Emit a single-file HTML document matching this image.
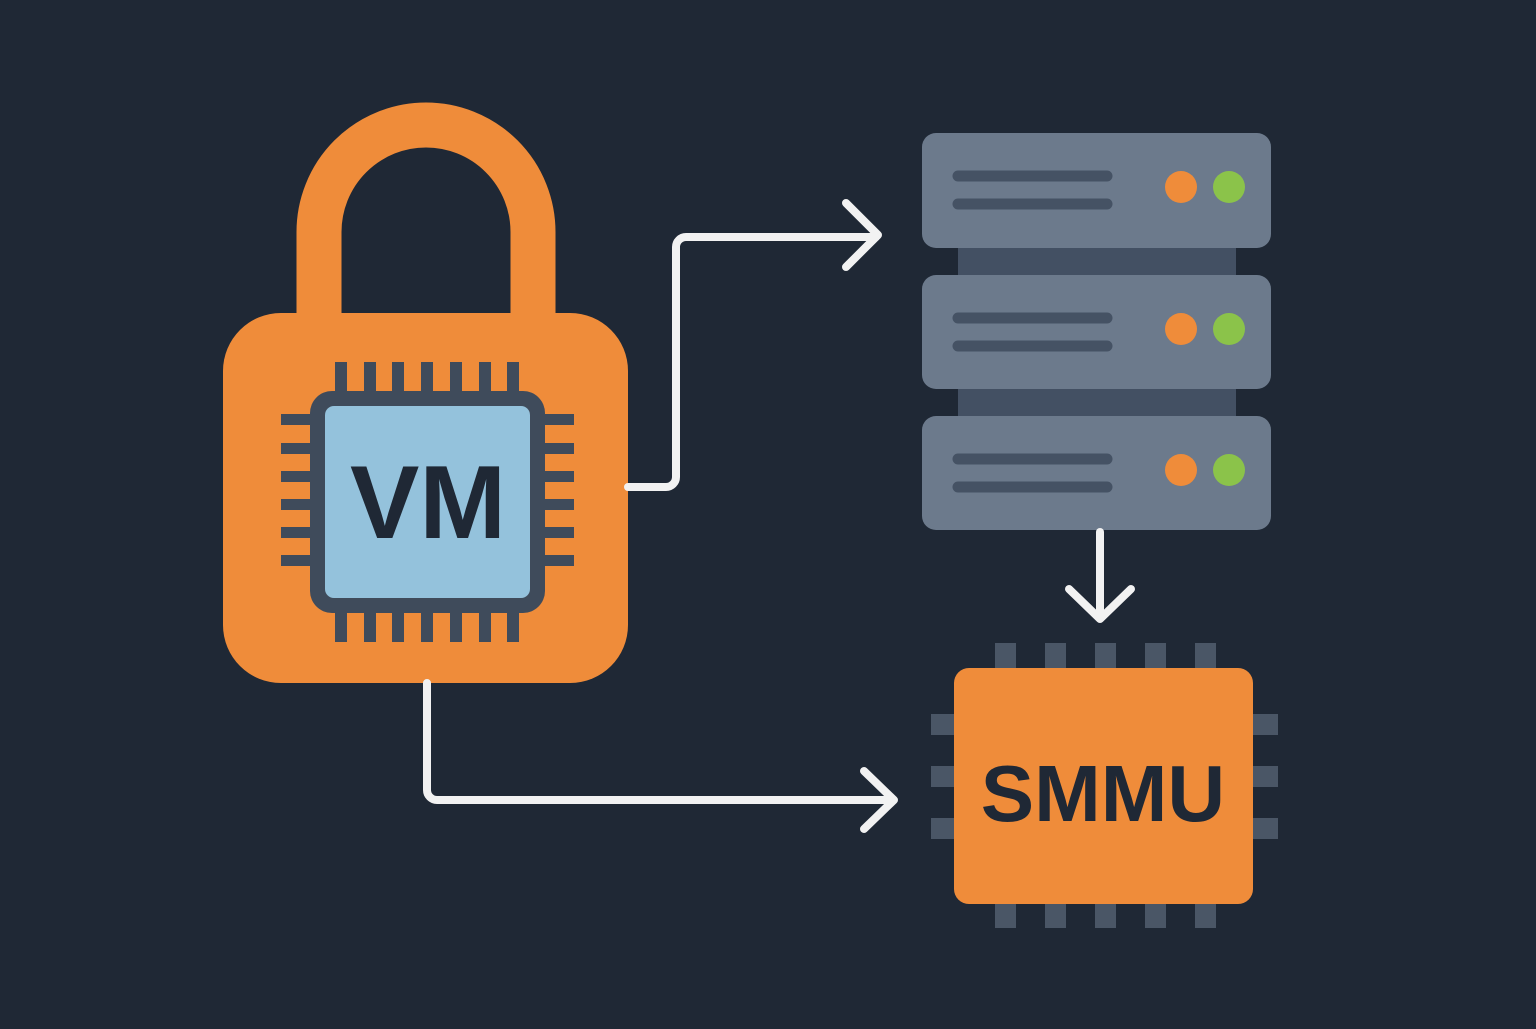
<!DOCTYPE html>
<html><head><style>html,body{margin:0;padding:0;background:#1f2835;}</style></head>
<body>
<svg width="1536" height="1024" viewBox="0 0 1536 1024" xmlns="http://www.w3.org/2000/svg">
<rect width="1536" height="1024" fill="#1f2835"/>
<!-- lock shackle -->
<path d="M319 330 V232 A107 107 0 0 1 533 232 V330" fill="none" stroke="#ef8c3a" stroke-width="45"/>
<rect x="223" y="313" width="405" height="370" rx="58" fill="#ef8c3a"/>
<!-- chip pins -->
<g fill="#3f4b5b">
<rect x="335" y="362" width="12" height="32"/><rect x="364" y="362" width="12" height="32"/><rect x="392" y="362" width="12" height="32"/><rect x="421" y="362" width="12" height="32"/><rect x="450" y="362" width="12" height="32"/><rect x="479" y="362" width="12" height="32"/><rect x="507" y="362" width="12" height="32"/>
<rect x="335" y="610" width="12" height="32"/><rect x="364" y="610" width="12" height="32"/><rect x="392" y="610" width="12" height="32"/><rect x="421" y="610" width="12" height="32"/><rect x="450" y="610" width="12" height="32"/><rect x="479" y="610" width="12" height="32"/><rect x="507" y="610" width="12" height="32"/>
<rect x="281" y="414" width="32" height="11"/><rect x="281" y="443" width="32" height="11"/><rect x="281" y="471" width="32" height="11"/><rect x="281" y="499" width="32" height="11"/><rect x="281" y="527" width="32" height="11"/><rect x="281" y="555" width="32" height="11"/>
<rect x="542" y="414" width="32" height="11"/><rect x="542" y="443" width="32" height="11"/><rect x="542" y="471" width="32" height="11"/><rect x="542" y="499" width="32" height="11"/><rect x="542" y="527" width="32" height="11"/><rect x="542" y="555" width="32" height="11"/>
<rect x="310" y="391" width="235" height="222" rx="22"/>
</g>
<rect x="325" y="406" width="205" height="192" rx="9" fill="#94c2dc"/>
<text x="428" y="538" text-anchor="middle" font-family="Liberation Sans, sans-serif" font-weight="bold" font-size="104" fill="#1f2835">VM</text>
<!-- servers -->
<rect x="958" y="240" width="278" height="190" fill="#435063"/>
<g>
<rect x="922" y="133" width="349" height="115" rx="14" fill="#6c7a8c"/>
<rect x="922" y="275" width="349" height="114" rx="14" fill="#6c7a8c"/>
<rect x="922" y="416" width="349" height="114" rx="14" fill="#6c7a8c"/>
</g>
<g stroke="#455264" stroke-width="11" stroke-linecap="round">
<line x1="958" y1="176" x2="1107" y2="176"/><line x1="958" y1="204" x2="1107" y2="204"/>
<line x1="958" y1="318" x2="1107" y2="318"/><line x1="958" y1="346" x2="1107" y2="346"/>
<line x1="958" y1="459" x2="1107" y2="459"/><line x1="958" y1="487" x2="1107" y2="487"/>
</g>
<g fill="#ef8c3a"><circle cx="1181" cy="187" r="16"/><circle cx="1181" cy="329" r="16"/><circle cx="1181" cy="470" r="16"/></g>
<g fill="#8bc34a"><circle cx="1229" cy="187" r="16"/><circle cx="1229" cy="329" r="16"/><circle cx="1229" cy="470" r="16"/></g>
<!-- arrows -->
<g fill="none" stroke="#f2f2f2" stroke-width="8" stroke-linecap="round" stroke-linejoin="round">
<path d="M628 487 H666 A10 10 0 0 0 676 477 V247 A10 10 0 0 1 686 237 H876"/>
<path d="M846 203 L878 235 L846 267"/>
<path d="M427 683 V790 A10 10 0 0 0 437 800 H893"/>
<path d="M864 771 L894 800 L864 829"/>
<path d="M1100 532 V616"/>
<path d="M1069 589 L1100 619 L1131 589"/>
</g>
<!-- SMMU chip -->
<g fill="#4a5666">
<rect x="995" y="643" width="21" height="30"/><rect x="1045" y="643" width="21" height="30"/><rect x="1095" y="643" width="21" height="30"/><rect x="1145" y="643" width="21" height="30"/><rect x="1195" y="643" width="21" height="30"/>
<rect x="995" y="900" width="21" height="28"/><rect x="1045" y="900" width="21" height="28"/><rect x="1095" y="900" width="21" height="28"/><rect x="1145" y="900" width="21" height="28"/><rect x="1195" y="900" width="21" height="28"/>
<rect x="931" y="714" width="28" height="21"/><rect x="931" y="766" width="28" height="21"/><rect x="931" y="818" width="28" height="21"/>
<rect x="1248" y="714" width="30" height="21"/><rect x="1248" y="766" width="30" height="21"/><rect x="1248" y="818" width="30" height="21"/>
</g>
<rect x="954" y="668" width="299" height="236" rx="15" fill="#ef8c3a"/>
<text x="1103" y="821" text-anchor="middle" font-family="Liberation Sans, sans-serif" font-weight="bold" font-size="80" fill="#1f2835">SMMU</text>
</svg>
</body></html>
